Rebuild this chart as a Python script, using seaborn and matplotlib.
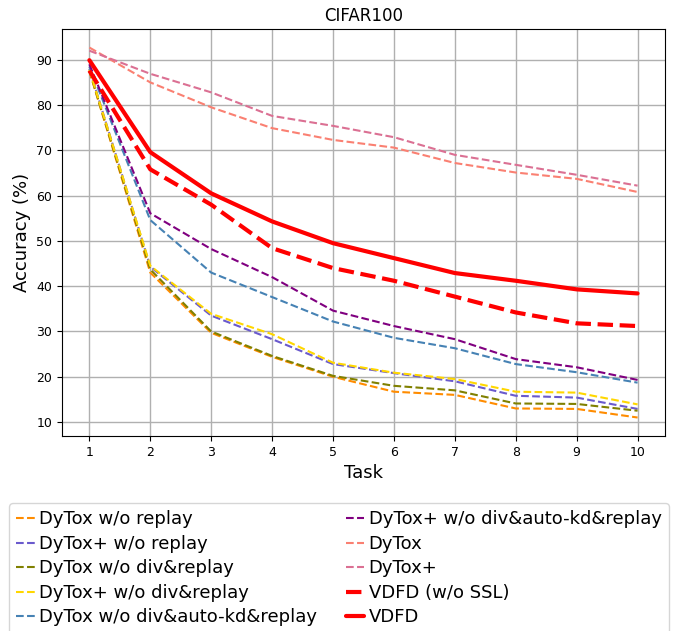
import numpy as np
import pandas as pd
import seaborn as sns
import matplotlib
matplotlib.use("Agg")
import matplotlib.pyplot as plt

tasks = [1, 2, 3, 4, 5, 6, 7, 8, 9, 10]

dytox_wo_replay = [87.5, 43.0, 29.7, 24.4, 20.0, 16.7, 16.0, 13.0, 12.9, 11.0]
dytoxp_wo_replay = [88.0, 44.3, 33.5, 28.3, 22.8, 20.8, 19.0, 15.8, 15.4, 12.9]
dytox_wo_div_replay = [87.6, 43.7, 30.0, 24.6, 20.2, 18.0, 17.0, 14.1, 14.0, 12.5]
dytoxp_wo_div_replay = [87.8, 44.5, 33.9, 29.4, 23.1, 20.9, 19.5, 16.7, 16.5, 13.9]
dytox_wo_div_akd_replay = [88.5, 54.6, 43.0, 37.6, 32.2, 28.6, 26.3, 22.8, 21.0, 18.7]
dytoxp_wo_div_akd_replay = [89.0, 56.1, 48.2, 42.0, 34.6, 31.2, 28.3, 23.9, 22.1, 19.3]
dytox = [92.7, 85.0, 79.5, 74.9, 72.3, 70.6, 67.2, 65.1, 63.7, 60.8]
dytoxp = [92.0, 86.9, 82.8, 77.6, 75.4, 72.9, 69.0, 66.8, 64.6, 62.2]
vdfd_wo_ssl = [87.6, 65.8, 58.0, 48.4, 44.0, 41.2, 37.7, 34.2, 31.8, 31.2]
vdfd = [89.9, 69.6, 60.5, 54.3, 49.5, 46.2, 42.9, 41.2, 39.3, 38.4]

series = [
    ("DyTox w/o replay", dytox_wo_replay, "darkorange", "--", 1.5),
    ("DyTox+ w/o replay", dytoxp_wo_replay, "slateblue", "--", 1.5),
    ("DyTox w/o div&replay", dytox_wo_div_replay, "olive", "--", 1.5),
    ("DyTox+ w/o div&replay", dytoxp_wo_div_replay, "gold", "--", 1.5),
    ("DyTox w/o div&auto-kd&replay", dytox_wo_div_akd_replay, "steelblue", "--", 1.5),
    ("DyTox+ w/o div&auto-kd&replay", dytoxp_wo_div_akd_replay, "purple", "--", 1.5),
    ("DyTox", dytox, "salmon", "--", 1.5),
    ("DyTox+", dytoxp, "palevioletred", "--", 1.5),
    ("VDFD (w/o SSL)", vdfd_wo_ssl, "red", "--", 3),
    ("VDFD", vdfd, "red", "-", 3),
]

sns.set_style("ticks")
plt.rcParams['font.family'] = ['DejaVu Sans']
plt.rcParams['text.color'] = 'black'
plt.rcParams['axes.labelcolor'] = 'black'
plt.rcParams['xtick.color'] = 'black'
plt.rcParams['ytick.color'] = 'black'

fig = plt.figure(figsize=(6.78, 6.31), dpi=100)
ax = fig.add_axes([0.0914, 0.309, 0.8894, 0.645])

for name, vals, col, ls, lw in series:
    df = pd.DataFrame({"Task": tasks, "Acc": vals})
    sns.lineplot(data=df, x="Task", y="Acc", ax=ax, color=col, linestyle=ls, linewidth=lw, label=name)

ax.grid(True, color="#b0b0b0", linewidth=1)
ax.set_axisbelow(True)
ax.set_xticks(tasks)
ax.set_title("CIFAR100", fontsize=12)
ax.set_xlabel("Task", fontsize=13)
ax.set_ylabel("Accuracy (%)", fontsize=13)
ax.tick_params(labelsize=9)
for s in ax.spines.values():
    s.set_color("black")

ax.get_legend().remove()
h, l = ax.get_legend_handles_labels()
fig.legend(h, l, loc="upper center", bbox_to_anchor=(0.5, 0.217), ncol=2,
           fontsize=13, handlelength=1.0, handletextpad=0.25, columnspacing=1.6,
           labelspacing=0.36, frameon=True)

fig.savefig("out.png", dpi=100)
